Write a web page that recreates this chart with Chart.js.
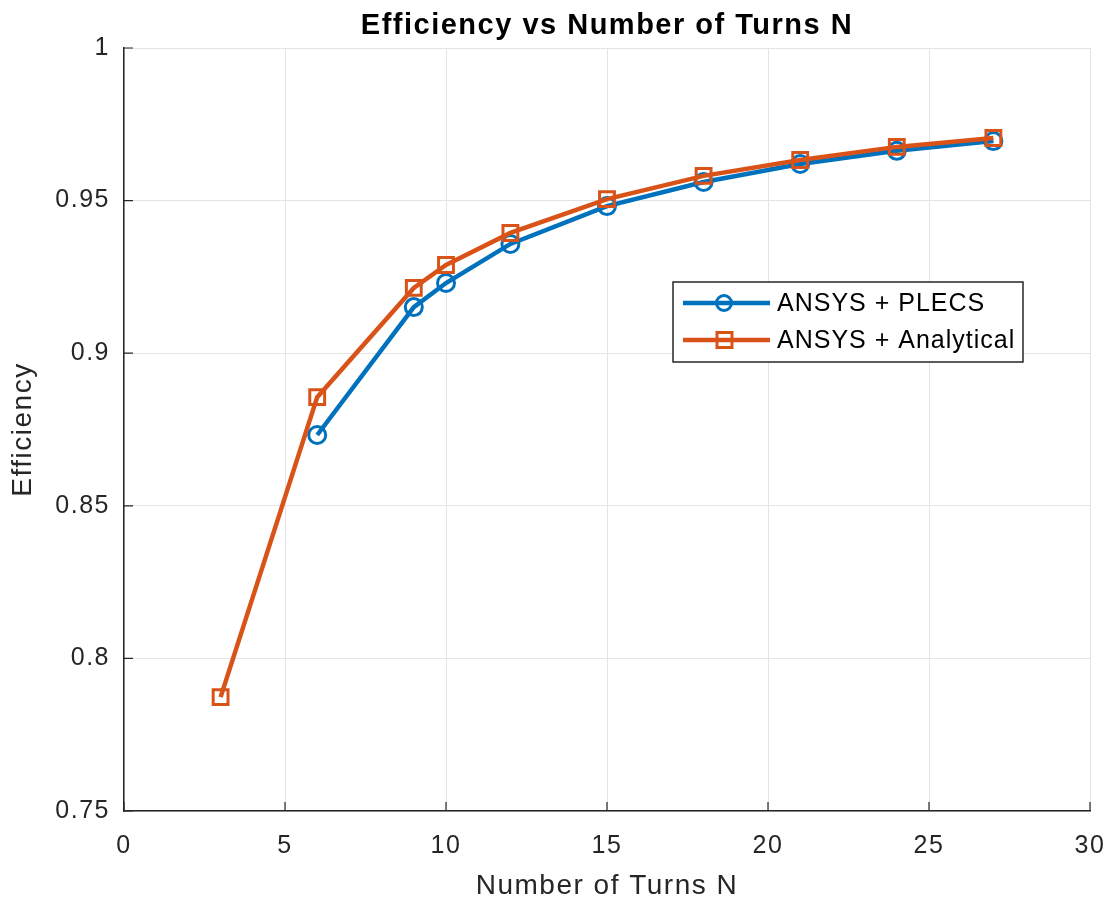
<!DOCTYPE html>
<html>
<head>
<meta charset="utf-8">
<script src="https://cdn.jsdelivr.net/npm/chart.js@4"></script>
<style>
  html, body { margin: 0; padding: 0; background: #fff; }
  #wrap { width: 1114px; height: 903px; }
</style>
</head>
<body>
<div id="wrap"><canvas id="chart" width="1114" height="903"></canvas></div>
<script>
const turnsN = [3, 6, 9, 10, 12, 15, 18, 21, 24, 27];
const plecsEff = [null, 0.8732, 0.9151, 0.9230, 0.9358, 0.9482, 0.9561, 0.9620, 0.9663, 0.9695];
const analyticalEff = [0.7873, 0.8856, 0.9214, 0.9289, 0.9394, 0.9505, 0.9581, 0.9633, 0.9676, 0.9705];
const seriesNames = ['ANSYS + PLECS', 'ANSYS + Analytical'];
const chartTitle = 'Efficiency vs Number of Turns N';

const BLUE = '#0072BD';
const ORANGE = '#D95319';
const AXIS = '#262626';
const FONT = '"Liberation Sans", Arial, sans-serif';

const toPoints = (xs, ys) => xs.map((x, i) => ({ x: x, y: ys[i] }));

// MATLAB draws its text a bit wider than canvas Arial does
const spacing = {
  id: 'spacing',
  beforeDraw(chart) { chart.ctx.letterSpacing = '1.5px'; }
};

// inward tick marks, title and the boxed legend, drawn by hand
const extras = {
  id: 'extras',
  afterDatasetsDraw(chart) {
    const ctx = chart.ctx;
    const area = chart.chartArea;
    const xs = chart.scales.x, ys = chart.scales.y;
    ctx.save();
    ctx.strokeStyle = AXIS;
    ctx.lineWidth = 1.2;
    ctx.beginPath();
    xs.ticks.forEach(t => {
      const px = xs.getPixelForValue(t.value);
      ctx.moveTo(px, area.bottom);
      ctx.lineTo(px, area.bottom - 9);
    });
    ys.ticks.forEach(t => {
      const py = ys.getPixelForValue(t.value);
      ctx.moveTo(area.left, py);
      ctx.lineTo(area.left + 9, py);
    });
    ctx.stroke();
    ctx.restore();
  },
  afterDraw(chart) {
    const ctx = chart.ctx;
    const area = chart.chartArea;
    ctx.save();
    ctx.letterSpacing = '1.5px';
    ctx.fillStyle = '#000';
    ctx.font = 'bold 29px ' + FONT;
    ctx.textAlign = 'center';
    ctx.textBaseline = 'middle';
    ctx.fillText(chartTitle, (area.left + area.right) / 2, 26);

    // legend box
    const bx = 673, by = 282, bw = 350, bh = 80;
    ctx.fillStyle = '#fff';
    ctx.fillRect(bx, by, bw, bh);
    ctx.strokeStyle = AXIS;
    ctx.lineWidth = 1.5;
    ctx.strokeRect(bx, by, bw, bh);
    const rows = [
      { name: seriesNames[0], color: BLUE, marker: 'circle', y: by + 21 },
      { name: seriesNames[1], color: ORANGE, marker: 'rect', y: by + 58 }
    ];
    rows.forEach(r => {
      ctx.strokeStyle = r.color;
      ctx.lineWidth = 4.5;
      ctx.beginPath();
      ctx.moveTo(bx + 10, r.y);
      ctx.lineTo(bx + 97, r.y);
      ctx.stroke();
      ctx.lineWidth = 3;
      ctx.beginPath();
      if (r.marker === 'circle') {
        ctx.arc(bx + 51, r.y, 7.5, 0, Math.PI * 2);
      } else {
        ctx.rect(bx + 44, r.y - 7.5, 15, 15);
      }
      ctx.stroke();
      ctx.fillStyle = '#000';
      ctx.font = '25px ' + FONT;
      ctx.letterSpacing = '1px';
      ctx.textAlign = 'left';
      ctx.fillText(r.name, bx + 104, r.y + 1);
    });
    ctx.restore();
  }
};

new Chart(document.getElementById('chart'), {
  type: 'line',
  data: {
    datasets: [
      {
        label: seriesNames[0],
        data: toPoints(turnsN, plecsEff),
        borderColor: BLUE,
        backgroundColor: 'transparent',
        borderWidth: 4.5,
        pointStyle: 'circle',
        pointRadius: 8.5,
        pointBorderWidth: 3,
        pointBackgroundColor: 'transparent',
        pointBorderColor: BLUE,
        spanGaps: false,
        order: 2
      },
      {
        label: seriesNames[1],
        data: toPoints(turnsN, analyticalEff),
        borderColor: ORANGE,
        backgroundColor: 'transparent',
        borderWidth: 4.5,
        pointStyle: 'rect',
        pointRadius: 10.5,
        pointBorderWidth: 3,
        pointBackgroundColor: 'transparent',
        pointBorderColor: ORANGE,
        order: 1
      }
    ]
  },
  options: {
    responsive: false,
    animation: false,
    layout: { padding: { top: 48, right: 24, left: 0, bottom: 0 } },
    plugins: {
      legend: { display: false },
      title: { display: false },
      tooltip: { enabled: false }
    },
    scales: {
      x: {
        type: 'linear',
        min: 0,
        max: 30,
        ticks: {
          stepSize: 5,
          color: AXIS,
          font: { family: FONT, size: 25 },
          padding: 20
        },
        grid: { color: '#e4e4e4', lineWidth: 1, drawTicks: false },
        border: { color: AXIS, width: 1.5 },
        title: {
          display: true,
          text: 'Number of Turns N',
          color: AXIS,
          font: { family: FONT, size: 28 },
          padding: { top: 0, bottom: 0 }
        },
        afterFit(scale) {
          scale.height = 92;
          scale.paddingLeft = 0;
          scale.paddingRight = 0;
        }
      },
      y: {
        min: 0.75,
        max: 1,
        ticks: {
          stepSize: 0.05,
          color: AXIS,
          font: { family: FONT, size: 25 },
          padding: 14,
          callback: v => String(+v.toFixed(2))
        },
        grid: { color: '#e4e4e4', lineWidth: 1, drawTicks: false },
        border: { color: AXIS, width: 1.5 },
        title: {
          display: true,
          text: 'Efficiency',
          color: AXIS,
          font: { family: FONT, size: 28 },
          padding: { top: 6, bottom: 0 }
        },
        afterFit(scale) {
          scale.width = 124;
          scale.paddingTop = 0;
          scale.paddingBottom = 0;
        }
      }
    }
  },
  plugins: [spacing, extras]
});
</script>
</body>
</html>
